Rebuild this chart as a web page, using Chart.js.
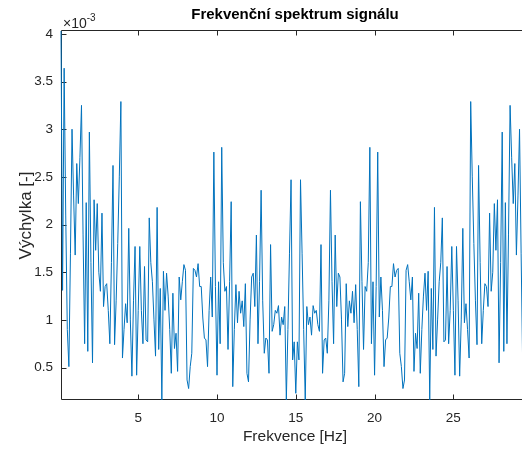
<!DOCTYPE html>
<html>
<head>
<meta charset="utf-8">
<title>Frekvenční spektrum signálu</title>
<script src="https://cdn.jsdelivr.net/npm/chart.js@4.4.1/dist/chart.umd.min.js"></script>
<style>
  html, body { margin: 0; padding: 0; background: #fff; overflow: hidden; }
</style>
</head>
<body>
<canvas id="spektrum" width="529" height="449"></canvas>
<script>
// amplitudy v jednotkách 1e-3, krok 0.1 Hz
// 0.1 .. 15.0 Hz
const spectrumLow = [
  4.03, 1.31, 3.64, 2.1, 0.9, 0.51, 1.7, 3.0, 2.3, 1.68,
  2.64, 2.22, 2.7, 3.25, 1.9, 0.75, 2.23, 0.67, 2.97, 1.6,
  0.55, 2.26, 1.73, 2.22, 1.5, 1.3, 2.12, 1.14, 1.35, 1.38,
  1.1, 0.75, 1.6, 2.62, 0.74, 1.2, 1.8, 2.5, 3.29, 0.6,
  0.9, 1.17, 0.97, 1.96, 1.0, 0.41, 1.2, 1.77, 0.42, 1.1,
  1.77, 1.1, 0.75, 1.56, 0.79, 0.77, 2.07, 1.6, 1.4, 1.0,
  0.62, 2.18, 0.69, 1.33, 0.16, 1.51, 1.1, 1.49, 1.25, 0.9,
  0.44, 1.28, 0.7, 0.86, 0.46, 1.45, 1.21, 1.4, 1.58, 1.52,
  0.37, 0.28, 0.51, 0.65, 1.54, 1.52, 1.45, 1.59, 1.35, 1.35,
  1.02, 0.81, 0.79, 0.51, 1.1, 1.45, 1.03, 2.76, 1.35, 0.42,
  1.4, 0.75, 2.81, 1.6, 1.3, 1.35, 0.69, 1.4, 2.24, 0.3,
  0.9, 1.37, 0.97, 1.3, 1.07, 1.2, 0.93, 1.38, 0.44, 0.35,
  1.0, 1.45, 1.49, 1.14, 1.89, 0.75, 1.4, 2.36, 1.2, 0.65,
  0.81, 0.79, 0.44, 1.79, 0.88, 0.95, 1.1, 1.07, 1.15, 0.84,
  1.03, 0.95, 1.14, 0.16, 0.9, 1.7, 2.47, 0.58, 0.77, 0.23
];
// 15.1 .. 29.8 Hz (zrcadlová polovina)
const spectrumHigh = [
  0.77, 0.58, 2.47, 1.7, 0.9, 0.16, 1.14, 0.95, 1.03,
  0.84, 1.15, 1.07, 1.1, 0.95, 0.88, 1.79, 0.44, 0.79, 0.81,
  0.65, 1.2, 2.36, 1.4, 0.75, 1.89, 1.14, 1.49, 1.45, 1.0,
  0.35, 0.44, 1.38, 0.93, 1.2, 1.07, 1.3, 0.97, 1.37, 0.9,
  0.3, 2.24, 1.4, 0.69, 1.35, 1.3, 1.6, 2.81, 0.75, 1.4,
  0.42, 1.35, 2.76, 1.03, 1.45, 1.1, 0.51, 0.79, 0.81, 1.02,
  1.35, 1.35, 1.59, 1.45, 1.52, 1.54, 0.65, 0.51, 0.28, 0.37,
  1.52, 1.58, 1.4, 1.21, 1.45, 0.46, 0.86, 0.7, 1.28, 0.44,
  0.9, 1.25, 1.49, 1.1, 1.51, 0.16, 1.33, 0.69, 2.18, 0.62,
  1.0, 1.4, 1.6, 2.07, 0.77, 0.79, 1.56, 0.75, 1.1, 1.77,
  1.1, 0.42, 1.77, 1.2, 0.41, 1.0, 1.96, 0.97, 1.17, 0.9,
  0.6, 3.29, 2.5, 1.8, 1.2, 0.74, 2.62, 1.6, 0.75, 1.1,
  1.38, 1.35, 1.14, 2.12, 1.3, 1.5, 2.22, 1.73, 2.26, 0.55,
  1.6, 2.97, 0.67, 2.23, 0.75, 1.9, 3.25, 2.7, 2.22, 2.64,
  1.68, 2.3, 3.0, 1.7, 0.51, 0.9, 2.1, 3.64, 1.31
];
const xTicks = [5, 10, 15, 20, 25];
const yTicks = [0.5, 1, 1.5, 2, 2.5, 3, 3.5, 4];

const df = 0.1; // frekvenční krok [Hz]
const amplitude = spectrumLow.concat(spectrumHigh);
const freqHz = amplitude.map((_, i) => +((i + 1) * df).toFixed(1));

const FONT = '"Liberation Sans", Arial, sans-serif';
const AXIS = '#262626';

// rámeček s tiky dovnitř + exponent u osy y (kreslí se pod křivku)
const osy = {
  id: 'osy',
  beforeDatasetsDraw(chart) {
    const { ctx, chartArea: a, scales: { x, y } } = chart;
    const L = Math.round(a.left) + 0.5;
    const T = Math.round(a.top) - 0.5;
    const B = Math.round(a.bottom) - 0.5;
    const R = a.right + 2;
    ctx.save();
    ctx.strokeStyle = AXIS;
    ctx.lineWidth = 1;
    ctx.beginPath();
    ctx.moveTo(R, T); ctx.lineTo(L, T); ctx.lineTo(L, B); ctx.lineTo(R, B);
    yTicks.forEach(v => {
      const p = Math.round(y.getPixelForValue(v)) + 0.5;
      ctx.moveTo(L, p); ctx.lineTo(L + 5, p);
    });
    xTicks.forEach(v => {
      const p = Math.round(x.getPixelForValue(v)) + 0.5;
      ctx.moveTo(p, B); ctx.lineTo(p, B - 5);
      ctx.moveTo(p, T); ctx.lineTo(p, T + 5);
    });
    ctx.stroke();

    ctx.fillStyle = AXIS;
    ctx.textAlign = 'left';
    ctx.textBaseline = 'alphabetic';
    ctx.font = '14px ' + FONT;
    ctx.fillText('×10', L + 1.5, T - 3);
    const w = ctx.measureText('×10').width;
    ctx.font = '10px ' + FONT;
    ctx.fillText('-3', L + 1.5 + w, T - 9.5);
    ctx.restore();
  }
};

new Chart(document.getElementById('spektrum'), {
  type: 'line',
  data: {
    labels: freqHz,
    datasets: [{
      data: amplitude,
      borderColor: '#0072BD',
      borderWidth: 1,
      pointRadius: 0,
      tension: 0,
      fill: false,
      clip: 1
    }]
  },
  options: {
    responsive: false,
    animation: false,
    events: [],
    layout: { padding: 0 },
    plugins: {
      legend: { display: false },
      tooltip: { enabled: false },
      title: {
        display: true,
        text: 'Frekvenční spektrum signálu',
        fullSize: false,
        color: '#000',
        font: { family: FONT, size: 15, weight: 'bold' },
        padding: { top: 5.5, bottom: 7.5 }
      }
    },
    scales: {
      x: {
        type: 'linear',
        min: 0.1,
        max: 29.8,
        afterFit: s => { s.height = 49; },
        afterBuildTicks: s => { s.ticks = xTicks.map(v => ({ value: v })); },
        grid: { display: false, drawTicks: false },
        border: { display: false },
        ticks: {
          padding: 10,
          color: AXIS,
          font: { family: FONT, size: 13.5 },
          maxRotation: 0,
          callback: v => String(v)
        },
        title: {
          display: true,
          text: 'Frekvence [Hz]',
          color: AXIS,
          font: { family: FONT, size: 15.5 },
          padding: { top: 0, bottom: 2.5 }
        }
      },
      y: {
        min: 0.16,
        max: 4.03,
        afterFit: s => { s.width = 61; },
        afterBuildTicks: s => { s.ticks = yTicks.map(v => ({ value: v })); },
        grid: { display: false, drawTicks: false },
        border: { display: false },
        ticks: {
          padding: 8,
          color: AXIS,
          font: { family: FONT, size: 13.5 },
          callback: v => String(v)
        },
        title: {
          display: true,
          text: 'Výchylka [-]',
          color: AXIS,
          font: { family: FONT, size: 17 },
          padding: { top: 16, bottom: 0 }
        }
      }
    }
  },
  plugins: [osy]
});
</script>
</body>
</html>
